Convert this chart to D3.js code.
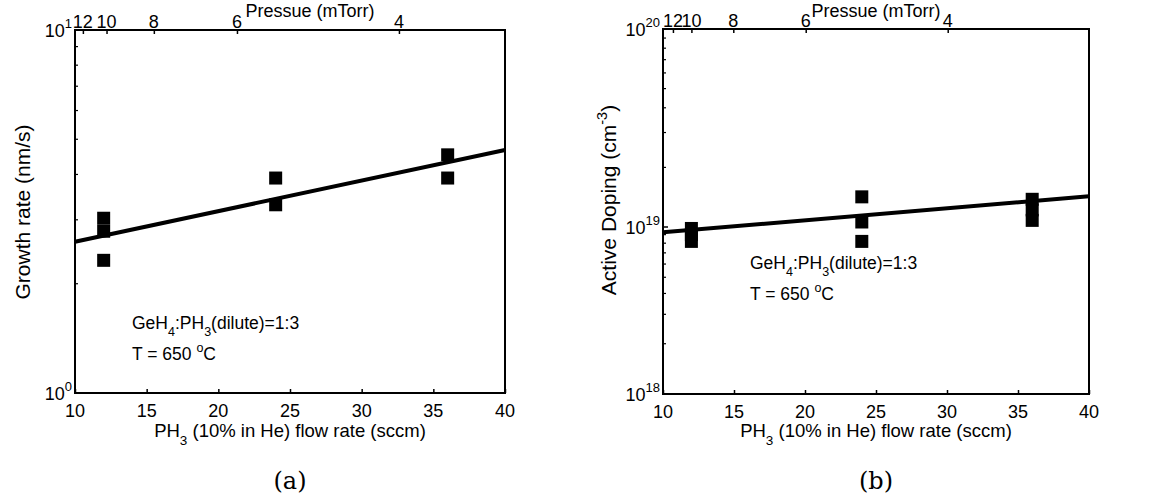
<!DOCTYPE html>
<html>
<head>
<meta charset="utf-8">
<script src="https://cdn.jsdelivr.net/npm/d3@7"></script>
<style>
body { margin: 0; background: #fff; }
text { font-family: Arial, "Liberation Sans", sans-serif; fill: #000; }
.cap { font-family: "DejaVu Serif", "Liberation Serif", serif; }
</style>
</head>
<body>
<div id="chart"></div>
<script>
// bottom axis (sccm) and top axis (mTorr)
var flowTicks = [10, 15, 20, 25, 30, 35, 40];
var pressureTicks = [12, 10, 8, 6, 4];
// where each pressure tick sits on the flow axis
var pressureAtFlowA = [10.55, 12.2, 15.5, 21.3, 32.6];
var pressureAtFlowB = [10.7, 12.0, 14.95, 20.05, 30.05];

// (a) growth rate, nm/s
var growthFlow = [12, 12, 12, 24, 24, 36, 36];
var growthRate = [3.03, 2.79, 2.32, 3.91, 3.30, 4.53, 3.91];
var growthFitFlow = [10, 40];
var growthFit = [2.61, 4.67];

// (b) active doping, cm^-3
var dopingFlow = [12, 12, 12, 24, 24, 24, 36, 36, 36];
var dopingVal = [0.98e19, 0.90e19, 0.82e19, 1.42e19, 1.06e19, 0.82e19, 1.38e19, 1.22e19, 1.08e19];
var dopingFitFlow = [10, 40];
var dopingFit = [0.93e19, 1.43e19];

var width = 1162, height = 502;
var svg = d3.select("#chart").append("svg")
  .attr("width", width)
  .attr("height", height);

function drawPanel(p) {
  var g = svg.append("g");
  var x = d3.scaleLinear().domain([10, 40]).range([p.x0, p.x1]);
  var y = p.y;

  // tick marks only, inward, labels drawn below
  g.append("g")
    .attr("transform", "translate(0," + p.y1 + ")")
    .call(d3.axisBottom(x).tickValues(flowTicks).tickSize(-4).tickFormat(""));
  g.append("g")
    .attr("transform", "translate(0," + p.y0 + ")")
    .call(d3.axisTop(x).tickValues(p.pFlow).tickSize(-4).tickFormat(""));
  g.selectAll(".domain").remove();
  g.selectAll(".tick line").attr("stroke", "#000").attr("stroke-width", 1.5);

  g.selectAll(".xt").data(flowTicks).enter().append("text")
    .attr("x", function (d) { return x(d); })
    .attr("y", p.y1 + 24)
    .attr("text-anchor", "middle").style("font-size", "18px")
    .text(function (d) { return d; });
  g.selectAll(".pt-lab").data(p.pFlow).enter().append("text")
    .attr("x", function (d) { return x(d); })
    .attr("y", p.y0 - 2)
    .attr("text-anchor", "middle").style("font-size", "18px")
    .text(function (d, i) { return pressureTicks[i]; });

  // minor log ticks on left axis
  g.selectAll(".minor").data(p.minor).enter().append("line")
    .attr("x1", p.x0).attr("x2", p.x0 + 3)
    .attr("y1", function (d) { return y(d); })
    .attr("y2", function (d) { return y(d); })
    .attr("stroke", "#000").attr("stroke-width", 1.2);
  g.selectAll(".major").data(p.major).enter().append("line")
    .attr("x1", p.x0).attr("x2", p.x0 + 5)
    .attr("y1", function (d) { return y(d.v); })
    .attr("y2", function (d) { return y(d.v); })
    .attr("stroke", "#000").attr("stroke-width", 1.5);

  // y tick labels 10^n
  p.major.forEach(function (d) {
    var t = g.append("text")
      .attr("x", p.x0 - 3).attr("y", y(d.v) + 7)
      .attr("text-anchor", "end").style("font-size", "18px");
    t.append("tspan").text("10");
    t.append("tspan").attr("dy", -9).style("font-size", "13px").text(d.e);
  });

  // frame
  g.append("rect")
    .attr("x", p.x0).attr("y", p.y0)
    .attr("width", p.x1 - p.x0).attr("height", p.y1 - p.y0)
    .attr("fill", "none").attr("stroke", "#000").attr("stroke-width", 2);

  // fit line
  var line = d3.line()
    .x(function (d) { return x(d[0]); })
    .y(function (d) { return y(d[1]); });
  g.append("path")
    .datum(d3.zip(p.fitX, p.fitY))
    .attr("d", line)
    .attr("fill", "none").attr("stroke", "#000").attr("stroke-width", 4);

  // data squares
  var s = 13;
  g.selectAll(".pt").data(d3.zip(p.px, p.py)).enter().append("rect")
    .attr("x", function (d) { return x(d[0]) - s / 2; })
    .attr("y", function (d) { return y(d[1]) - s / 2; })
    .attr("width", s).attr("height", s)
    .attr("fill", "#000");

  var cx = (p.x0 + p.x1) / 2;

  // top title
  g.append("text").attr("x", p.tx).attr("y", 16.5).attr("text-anchor", "middle")
    .style("font-size", "18px").text("Pressue (mTorr)");

  // x label
  var xl = g.append("text").attr("x", cx).attr("y", 437).attr("text-anchor", "middle")
    .style("font-size", "18.5px");
  xl.append("tspan").text("PH");
  xl.append("tspan").attr("dy", 8).style("font-size", "13.5px").text("3");
  xl.append("tspan").attr("dy", -8).text(" (10% in He) flow rate (sccm)");

  // y label
  var yl = g.append("text")
    .attr("transform", "translate(" + p.ylx + "," + p.yly + ") rotate(-90)")
    .attr("text-anchor", "middle").style("font-size", "21px");
  yl.append("tspan").text(p.ylabel);
  if (p.ysup) {
    yl.append("tspan").attr("dy", -9).style("font-size", "14.5px").text(p.ysup);
    yl.append("tspan").attr("dy", 9).text(")");
  }

  // annotations
  var a1 = g.append("text").attr("x", p.ax).attr("y", p.ay).style("font-size", "17.5px");
  a1.append("tspan").text("GeH");
  a1.append("tspan").attr("dy", 7).style("font-size", "12.5px").text("4");
  a1.append("tspan").attr("dy", -7).text(":PH");
  a1.append("tspan").attr("dy", 7).style("font-size", "12.5px").text("3");
  a1.append("tspan").attr("dy", -7).text("(dilute)=1:3");
  var a2 = g.append("text").attr("x", p.ax).attr("y", p.ay + 31).style("font-size", "17.5px");
  a2.append("tspan").text("T = 650 ");
  a2.append("tspan").attr("dy", -8).style("font-size", "12.5px").text("o");
  a2.append("tspan").attr("dy", 8).text("C");

  // caption
  g.append("text").attr("class", "cap").attr("x", cx).attr("y", 489)
    .attr("text-anchor", "middle").style("font-size", "24px").text(p.cap);
}

drawPanel({
  x0: 75, x1: 505, y0: 30, y1: 393,
  y: d3.scaleLog().domain([1, 10]).range([393, 30]),
  major: [{ v: 1, e: "0" }, { v: 10, e: "1" }],
  minor: [2, 3, 4, 5, 6, 7, 8, 9],
  pFlow: pressureAtFlowA,
  px: growthFlow, py: growthRate,
  fitX: growthFitFlow, fitY: growthFit,
  ylabel: "Growth rate (nm/s)", ysup: null, ylx: 30, yly: 212,
  ax: 132, ay: 329, tx: 310,
  cap: "(a)"
});

drawPanel({
  x0: 663, x1: 1089, y0: 29, y1: 394,
  y: d3.scaleLog().domain([1e18, 1e19, 1e20]).range([394, 227, 29]),
  major: [{ v: 1e18, e: "18" }, { v: 1e19, e: "19" }, { v: 1e20, e: "20" }],
  minor: [2e18, 3e18, 4e18, 5e18, 6e18, 7e18, 8e18, 9e18, 2e19, 3e19, 4e19, 5e19, 6e19, 7e19, 8e19, 9e19],
  pFlow: pressureAtFlowB,
  px: dopingFlow, py: dopingVal,
  fitX: dopingFitFlow, fitY: dopingFit,
  ylabel: "Active Doping (cm", ysup: "-3", ylx: 616, yly: 200,
  ax: 750, ay: 269, tx: 876,
  cap: "(b)"
});
</script>
</body>
</html>
